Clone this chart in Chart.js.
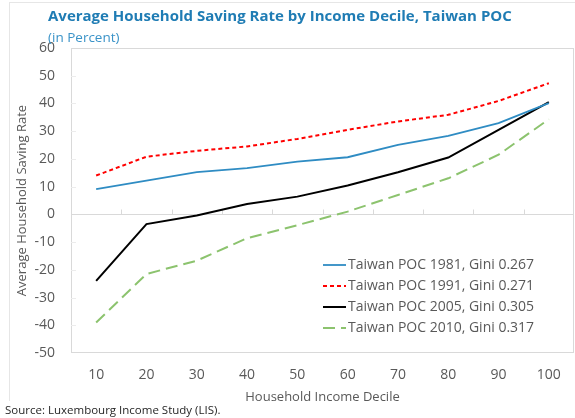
<!DOCTYPE html>
<html>
<head>
<meta charset="utf-8">
<title>Average Household Saving Rate by Income Decile, Taiwan POC</title>
<script src="https://cdn.jsdelivr.net/npm/chart.js@4.4.1/dist/chart.umd.min.js"></script>
<style>
  html, body { margin: 0; padding: 0; background: #fff; }
  #wrap { position: relative; width: 575px; height: 418px; overflow: hidden; font-family: "Open Sans", sans-serif; }
  #frame { position: absolute; left: 9px; top: 2px; width: 600px; height: 398px; border-top: 1px solid #e6e6e6; border-left: 1px solid #e6e6e6; }
  canvas { position: absolute; left: 0; top: 0; }
  #title { position: absolute; left: 48px; top: 5px; font-size: 15px; font-weight: bold; color: #1f7cb4; white-space: nowrap; }
  #sub { position: absolute; left: 48px; top: 28px; font-size: 13.5px; color: #3a93c8; white-space: nowrap; }
  #source { position: absolute; left: 5px; top: 402px; font-size: 11.5px; color: #262626; white-space: nowrap; }
</style>
</head>
<body>
<div id="wrap">
  <div id="frame"></div>
  <canvas id="chart" width="575" height="418"></canvas>
  <div id="title">Average Household Saving Rate by Income Decile, Taiwan POC</div>
  <div id="sub">(in Percent)</div>
  <div id="source">Source: Luxembourg Income Study (LIS).</div>
</div>
<script>
// data
var deciles = ['10', '20', '30', '40', '50', '60', '70', '80', '90', '100'];
var seriesNames = ['Taiwan POC 1981, Gini 0.267', 'Taiwan POC 1991, Gini 0.271',
                   'Taiwan POC 2005, Gini 0.305', 'Taiwan POC 2010, Gini 0.317'];
var rate1981 = [9.1, 12.2, 15.2, 16.7, 19.0, 20.6, 25.1, 28.3, 32.9, 40.1];
var rate1991 = [14.0, 20.8, 22.9, 24.5, 27.2, 30.5, 33.5, 35.9, 40.9, 47.3];
var rate2005 = [-24.0, -3.5, -0.4, 3.7, 6.4, 10.4, 15.2, 20.5, 30.5, 40.5];
var rate2010 = [-39.0, -21.5, -16.7, -8.6, -3.9, 1.0, 7.0, 13.0, 21.5, 34.3];
var yMin = -50, yMax = 60, yStep = 10;

var gray = '#595959';
var lineGray = '#d9d9d9';

// frame, zero line and the little excel style tick marks
var axesPlugin = {
  id: 'excelAxes',
  beforeDatasetsDraw: function(chart) {
    var ctx = chart.ctx, a = chart.chartArea;
    var x = chart.scales.x, y = chart.scales.y;
    ctx.save();
    ctx.lineWidth = 1;
    ctx.strokeStyle = lineGray;
    ctx.strokeRect(a.left + 0.5, a.top + 0.5, a.right - a.left - 1, a.bottom - a.top - 1);
    var y0 = Math.round(y.getPixelForValue(0)) + 0.5;
    ctx.beginPath();
    ctx.moveTo(a.left, y0);
    ctx.lineTo(a.right, y0);
    ctx.stroke();
    for (var i = 0; i < deciles.length - 1; i++) {
      var px = Math.round((x.getPixelForValue(i) + x.getPixelForValue(i + 1)) / 2) + 0.5;
      ctx.beginPath();
      ctx.moveTo(px, y0 - 5);
      ctx.lineTo(px, y0);
      ctx.stroke();
    }
    ctx.strokeStyle = '#ececec';
    for (var v = yMin + yStep; v < yMax; v += yStep) {
      if (v === 0) continue;
      var py = Math.round(y.getPixelForValue(v)) + 0.5;
      ctx.beginPath();
      ctx.moveTo(a.left, py);
      ctx.lineTo(a.left + 5, py);
      ctx.stroke();
    }
    ctx.restore();
  }
};

// legend sits inside the plot, lower right
var legendPlugin = {
  id: 'insideLegend',
  afterDatasetsDraw: function(chart) {
    var ctx = chart.ctx, a = chart.chartArea;
    var left = a.left + 252, top = a.top + 217;
    ctx.save();
    ctx.font = '14px "Open Sans", sans-serif';
    ctx.textBaseline = 'middle';
    ctx.fillStyle = gray;
    chart.data.datasets.forEach(function(ds, i) {
      var ly = top + i * 21;
      ctx.beginPath();
      ctx.strokeStyle = ds.borderColor;
      ctx.lineWidth = ds.borderWidth;
      ctx.setLineDash(ds.borderDash || []);
      ctx.moveTo(left, ly);
      ctx.lineTo(left + 23, ly);
      ctx.stroke();
      ctx.setLineDash([]);
      ctx.fillText(ds.label, left + 25, ly);
    });
    ctx.restore();
  }
};

function line(label, values, color, dash, width) {
  return {
    label: label,
    data: values,
    borderColor: color,
    backgroundColor: color,
    borderWidth: width,
    borderDash: dash,
    pointRadius: 0,
    tension: 0,
    fill: false
  };
}

new Chart(document.getElementById('chart'), {
  type: 'line',
  data: {
    labels: deciles,
    datasets: [
      line(seriesNames[0], rate1981, '#2f8cc3', [], 1.8),
      line(seriesNames[1], rate1991, '#ff0000', [4, 3], 2),
      line(seriesNames[2], rate2005, '#000000', [], 2),
      line(seriesNames[3], rate2010, '#8cc36e', [12, 6], 2)
    ]
  },
  options: {
    responsive: false,
    animation: false,
    layout: { padding: { top: 48, right: 1, left: 0, bottom: 0 } },
    plugins: { legend: { display: false }, title: { display: false }, tooltip: { enabled: false } },
    scales: {
      x: {
        offset: true,
        grid: { display: false, drawTicks: false },
        border: { display: false },
        ticks: { color: gray, font: { family: '"Open Sans", sans-serif', size: 14 }, padding: 14, maxRotation: 0 },
        title: { display: true, text: 'Household Income Decile', color: gray,
                 font: { family: '"Open Sans", sans-serif', size: 13 }, padding: { top: 0, bottom: 13 } },
        afterFit: function(s) { s.height = 65; }
      },
      y: {
        min: yMin,
        max: yMax,
        grid: { display: false, drawTicks: false },
        border: { display: false },
        ticks: { stepSize: yStep, color: gray, font: { family: '"Open Sans", sans-serif', size: 14 }, padding: 16 },
        title: { display: true, text: 'Average Household Saving Rate', color: gray,
                 font: { family: '"Open Sans", sans-serif', size: 13 }, padding: { top: 14, bottom: 0 } },
        afterFit: function(s) { s.width = 71; }
      }
    }
  },
  plugins: [axesPlugin, legendPlugin]
});
</script>
</body>
</html>
